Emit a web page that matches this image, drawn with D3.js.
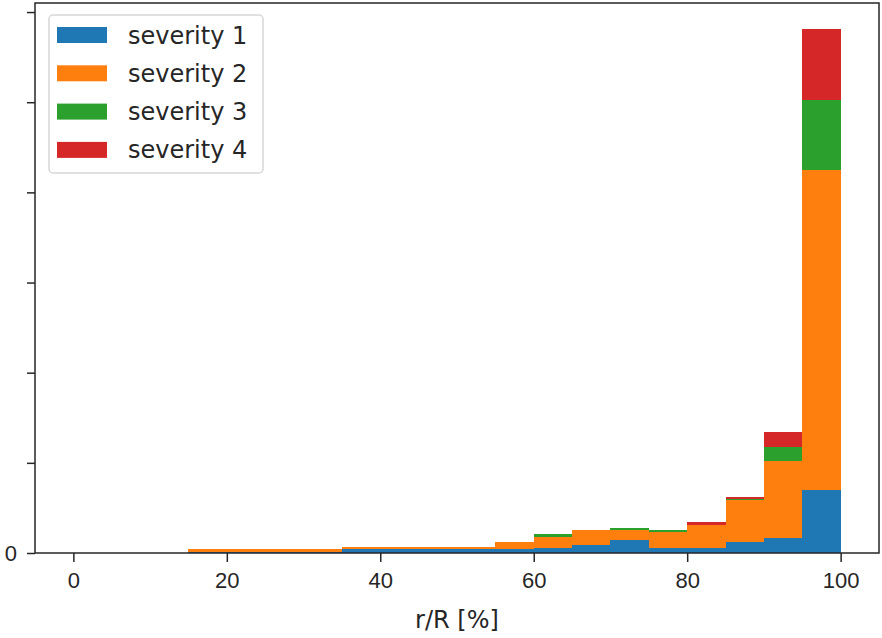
<!DOCTYPE html>
<html>
<head>
<meta charset="utf-8">
<script src="https://cdn.jsdelivr.net/npm/d3@7"></script>
<style>
    body { margin: 0; background: #fff; }
    svg { display: block; font-family: "DejaVu Sans", sans-serif; }
    .axis path, .axis line { stroke: #262626; }
    .axis text { fill: #262626; }
    .layer rect { shape-rendering: crispEdges; }
</style>
</head>
<body>
<svg id="hist_svg" width="882" height="638"></svg>
<script>
// left edges of the 5% bins
var binStarts = [0, 5, 10, 15, 20, 25, 30, 35, 40, 45, 50, 55, 60, 65, 70, 75, 80, 85, 90, 95];
var binWidth = 5;
var severity1 = [0, 0, 0, 1, 1, 1, 1, 4, 4, 4, 4, 4, 6, 9, 14, 5, 5, 12, 17, 70];
var severity2 = [0, 0, 0, 3, 3, 3, 3, 3, 3, 3, 3, 8, 12, 17, 11, 18, 26, 47, 85, 355];
var severity3 = [0, 0, 0, 0, 0, 0, 0, 0, 0, 0, 0, 0, 3, 0, 3, 3, 0, 1, 16, 78];
var severity4 = [0, 0, 0, 0, 0, 0, 0, 0, 0, 0, 0, 0, 0, 0, 0, 0, 3, 2, 16, 78];
var seriesNames = ["severity 1", "severity 2", "severity 3", "severity 4"];
var seriesColors = ["#1f77b4", "#ff7f0e", "#2ca02c", "#d62728"];
var xTicks = [0, 20, 40, 60, 80, 100];
var yTicks = [0, 100, 200, 300, 400, 500, 600];

var pad_left = 35, pad_top = 3, pad_right = 879, pad_bot = 553;

function build() {
    var svg = d3.select("#hist_svg");
    var series = [severity1, severity2, severity3, severity4];

    var rows = binStarts.map(function (b, i) {
        var r = {start: b};
        for (var s = 0; s < series.length; s++) {
            r[seriesNames[s]] = series[s][i];
        }
        return r;
    });
    var stacked = d3.stack().keys(seriesNames)(rows);
    var ymax = d3.max(rows, function (r) {
        return d3.sum(seriesNames, function (k) { return r[k]; });
    }) * 1.05;

    var x = d3.scaleLinear().domain([-5, 105]).range([pad_left, pad_right]);
    var y = d3.scaleLinear().domain([0, ymax]).range([pad_bot, pad_top]);

    // bars
    svg.selectAll("g.layer")
        .data(stacked)
        .enter().append("g")
        .attr("class", "layer")
        .attr("fill", function (d, i) { return seriesColors[i]; })
        .selectAll("rect")
        .data(function (d) { return d; })
        .enter().append("rect")
        .attr("x", function (d) { return x(d.data.start); })
        .attr("width", function (d) { return x(d.data.start + binWidth) - x(d.data.start); })
        .attr("y", function (d) { return y(d[1]); })
        .attr("height", function (d) { return y(d[0]) - y(d[1]); });

    // axes
    svg.append("g")
        .attr("class", "axis")
        .attr("transform", "translate(0," + pad_bot + ")")
        .call(d3.axisBottom(x).tickValues(xTicks).tickSize(9).tickPadding(6).tickSizeOuter(0))
        .call(function (g) {
            g.select(".domain").remove();
            g.selectAll("line").attr("stroke-width", 1.5);
            g.selectAll("text").attr("font-size", "22px").attr("dy", "0.9em");
        });
    svg.append("g")
        .attr("class", "axis")
        .attr("transform", "translate(" + pad_left + ",0)")
        .call(d3.axisLeft(y).tickValues(yTicks).tickSize(8).tickPadding(10)
            .tickFormat(function (d) { return d === 0 ? "0" : ""; }))
        .call(function (g) {
            g.select(".domain").remove();
            g.selectAll("line").attr("stroke-width", 1.5);
            g.selectAll("text").attr("font-size", "22px");
        });

    // frame
    svg.append("rect")
        .attr("x", pad_left)
        .attr("y", pad_top)
        .attr("width", pad_right - pad_left)
        .attr("height", pad_bot - pad_top)
        .attr("fill", "none")
        .attr("stroke", "#262626")
        .attr("stroke-width", 1.5);

    svg.append("text")
        .text("r/R [%]")
        .attr("x", (pad_left + pad_right) / 2)
        .attr("y", 628)
        .attr("text-anchor", "middle")
        .attr("font-size", "24px")
        .attr("fill", "#262626");

    // legend
    var leg = svg.append("g").attr("transform", "translate(49,15)");
    leg.append("rect")
        .attr("width", 214)
        .attr("height", 158)
        .attr("rx", 4)
        .attr("fill", "#fff")
        .attr("fill-opacity", 0.8)
        .attr("stroke", "#d6d6d6")
        .attr("stroke-width", 1.5);
    var item = leg.selectAll("g.item")
        .data(seriesNames)
        .enter().append("g")
        .attr("class", "item")
        .attr("transform", function (d, i) {
            return "translate(0," + (20 + i * 38.3) + ")";
        });
    item.append("rect")
        .attr("x", 8)
        .attr("y", -8)
        .attr("width", 50)
        .attr("height", 16)
        .attr("fill", function (d, i) { return seriesColors[i]; });
    item.append("text")
        .text(function (d) { return d; })
        .attr("x", 79)
        .attr("y", 8.5)
        .attr("font-size", "24px")
        .attr("fill", "#262626");
}
build();
</script>
</body>
</html>
